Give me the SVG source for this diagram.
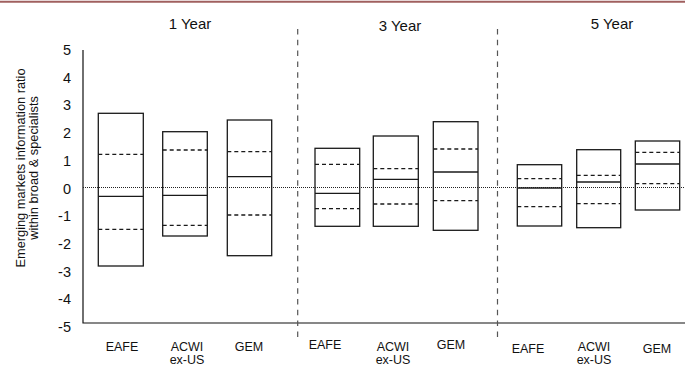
<svg xmlns="http://www.w3.org/2000/svg" width="685" height="366" viewBox="0 0 685 366">
<style>
text{font-family:"Liberation Sans",Arial,sans-serif;fill:#111}
.hdr{font-size:15px;text-anchor:middle}
.tick{font-size:14.5px;text-anchor:end}
.cat{font-size:12.5px;text-anchor:middle}
.ttl{font-size:12.8px;text-anchor:middle}
.box{fill:none;stroke:#1a1a1a;stroke-width:1.3}
.med{stroke:#1a1a1a;stroke-width:1.3}
.q{stroke:#1a1a1a;stroke-width:1.3;stroke-dasharray:4 3}
.div{stroke:#555;stroke-width:1.2;stroke-dasharray:5.5 5.3}
.axis{stroke:#111;stroke-width:1.2;fill:none}
.zero{stroke:#222;stroke-width:1;stroke-dasharray:1 1}
</style>
<rect x="0" y="0" width="685" height="366" fill="#fff"/>
<line x1="0" y1="1.7" x2="685" y2="1.7" stroke="#a0605f" stroke-width="2"/>
<g id="headers">
<text class="hdr" x="190" y="29">1 Year</text>
<text class="hdr" x="400" y="31">3 Year</text>
<text class="hdr" x="612" y="29">5 Year</text>
</g>
<g id="yaxis-title">
<text class="ttl" transform="translate(25,168) rotate(-90)">Emerging markets information ratio</text>
<text class="ttl" transform="translate(38,168) rotate(-90)">within broad &amp; specialists</text>
</g>
<g id="ticks">
<text class="tick" x="71" y="55">5</text>
<text class="tick" x="71" y="82.7">4</text>
<text class="tick" x="71" y="110.4">3</text>
<text class="tick" x="71" y="138.1">2</text>
<text class="tick" x="71" y="165.8">1</text>
<text class="tick" x="71" y="193.5">0</text>
<text class="tick" x="71" y="221.2">-1</text>
<text class="tick" x="71" y="248.9">-2</text>
<text class="tick" x="71" y="276.6">-3</text>
<text class="tick" x="71" y="304.3">-4</text>
<text class="tick" x="71" y="332">-5</text>
</g>
<g id="connectors">
<path class="axis" d="M83,50 V323 H685"/>
<line class="zero" x1="83" y1="187.5" x2="685" y2="187.5"/>
<line class="div" x1="297.7" y1="29" x2="297.7" y2="337"/>
<line class="div" x1="497.5" y1="29" x2="497.5" y2="337"/>
</g>
<g id="eafe-1y">
<rect class="box" x="98.3" y="113.3" width="45" height="152.7"/>
<line class="q" x1="98.3" y1="154.3" x2="143.3" y2="154.3"/>
<line class="med" x1="98.3" y1="196.3" x2="143.3" y2="196.3"/>
<line class="q" x1="98.3" y1="229.3" x2="143.3" y2="229.3"/>
</g>
<g id="acwi-1y">
<rect class="box" x="162.7" y="131.7" width="44.6" height="104.3"/>
<line class="q" x1="162.7" y1="150" x2="207.3" y2="150"/>
<line class="med" x1="162.7" y1="195.3" x2="207.3" y2="195.3"/>
<line class="q" x1="162.7" y1="225.3" x2="207.3" y2="225.3"/>
</g>
<g id="gem-1y">
<rect class="box" x="227.3" y="120" width="44.4" height="135.7"/>
<line class="q" x1="227.3" y1="151.7" x2="271.7" y2="151.7"/>
<line class="med" x1="227.3" y1="176.7" x2="271.7" y2="176.7"/>
<line class="q" x1="227.3" y1="215" x2="271.7" y2="215"/>
</g>
<g id="eafe-3y">
<rect class="box" x="315" y="148.3" width="44.7" height="78"/>
<line class="q" x1="315" y1="164.3" x2="359.7" y2="164.3"/>
<line class="med" x1="315" y1="193.3" x2="359.7" y2="193.3"/>
<line class="q" x1="315" y1="208.7" x2="359.7" y2="208.7"/>
</g>
<g id="acwi-3y">
<rect class="box" x="373.3" y="136" width="45" height="90.3"/>
<line class="q" x1="373.3" y1="168.7" x2="418.3" y2="168.7"/>
<line class="med" x1="373.3" y1="179.3" x2="418.3" y2="179.3"/>
<line class="q" x1="373.3" y1="204" x2="418.3" y2="204"/>
</g>
<g id="gem-3y">
<rect class="box" x="433.3" y="121.7" width="44.7" height="108.6"/>
<line class="q" x1="433.3" y1="149" x2="478" y2="149"/>
<line class="med" x1="433.3" y1="172" x2="478" y2="172"/>
<line class="q" x1="433.3" y1="200.7" x2="478" y2="200.7"/>
</g>
<g id="eafe-5y">
<rect class="box" x="517.3" y="164.7" width="44.4" height="61.3"/>
<line class="q" x1="517.3" y1="178.7" x2="561.7" y2="178.7"/>
<line class="med" x1="517.3" y1="188" x2="561.7" y2="188"/>
<line class="q" x1="517.3" y1="206.7" x2="561.7" y2="206.7"/>
</g>
<g id="acwi-5y">
<rect class="box" x="576.7" y="149.7" width="44" height="78"/>
<line class="q" x1="576.7" y1="175.3" x2="620.7" y2="175.3"/>
<line class="med" x1="576.7" y1="182" x2="620.7" y2="182"/>
<line class="q" x1="576.7" y1="203.7" x2="620.7" y2="203.7"/>
</g>
<g id="gem-5y">
<rect class="box" x="635.3" y="141" width="44.4" height="69"/>
<line class="q" x1="635.3" y1="152.3" x2="679.7" y2="152.3"/>
<line class="med" x1="635.3" y1="164" x2="679.7" y2="164"/>
<line class="q" x1="635.3" y1="183.7" x2="679.7" y2="183.7"/>
</g>
<g id="categories">
<text class="cat" x="122" y="351">EAFE</text>
<text class="cat" x="187" y="351">ACWI</text>
<text class="cat" x="187" y="364">ex-US</text>
<text class="cat" x="249" y="351">GEM</text>
<text class="cat" x="325" y="349">EAFE</text>
<text class="cat" x="393" y="351">ACWI</text>
<text class="cat" x="393" y="364">ex-US</text>
<text class="cat" x="451" y="349">GEM</text>
<text class="cat" x="528" y="353">EAFE</text>
<text class="cat" x="594" y="351">ACWI</text>
<text class="cat" x="594" y="363.5">ex-US</text>
<text class="cat" x="657" y="353">GEM</text>
</g>
</svg>
